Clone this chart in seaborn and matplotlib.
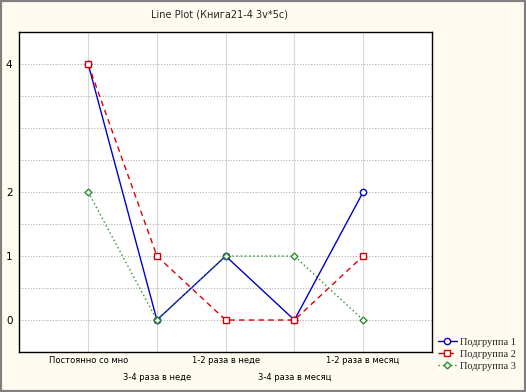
import pandas as pd
import matplotlib
matplotlib.use('Agg')
import matplotlib.pyplot as plt
import seaborn as sns

# данные с графика
categories = ['Постоянно со мно', '3-4 раза в неде', '1-2 раза в неде',
              '3-4 раза в месяц', '1-2 раза в месяц']
group1 = [4, 0, 1, 0, 2]
group2 = [4, 1, 0, 0, 1]
group3 = [2, 0, 1, 1, 0]
series_names = ['Подгруппа 1', 'Подгруппа 2', 'Подгруппа 3']

rows = []
for name, vals in zip(series_names, [group1, group2, group3]):
    for i, v in enumerate(vals):
        rows.append({'pos': i, 'value': v, 'group': name})
df = pd.DataFrame(rows)

sns.set_style('white')
plt.rcParams['font.family'] = ['DejaVu Sans']

fig = plt.figure(figsize=(5.26, 3.92), dpi=100, facecolor='#fffbf0')
ax = fig.add_axes([0.037, 0.102, 0.784, 0.816])
ax.set_facecolor('white')

styles = {
    'Подгруппа 1': dict(color='#0000cc', ls='-', marker='o'),
    'Подгруппа 2': dict(color='#dd0000', ls=(0, (4, 3)), marker='s'),
    'Подгруппа 3': dict(color='#2e8b2e', ls=(0, (1, 2)), marker='D'),
}
for name in series_names:
    st = styles[name]
    sns.lineplot(data=df[df['group'] == name], x='pos', y='value', ax=ax,
                 color=st['color'], linestyle=st['ls'], marker=st['marker'],
                 markersize=4.5 if st['marker'] != 'D' else 3.5,
                 markerfacecolor='white', markeredgecolor=st['color'],
                 markeredgewidth=1, linewidth=1, label=name)

ax.set_xlim(-1, len(categories))
ax.set_ylim(-0.5, 4.5)

# горизонтальная сетка через 0.5, подписи только 0,1,2,4
ax.set_yticks([0, 1, 2, 4])
ax.set_yticklabels(['0', '1', '2', '4'], fontsize=7.5)
ax.set_yticks([-0.5 + 0.5 * k for k in range(10)], minor=True)
ax.grid(True, which='minor', axis='y', color='#b0b0b0', ls=(0, (1, 1.5)), lw=0.8)
ax.grid(True, which='major', axis='y', color='#b0b0b0', ls=(0, (1, 1.5)), lw=0.8)

ax.set_xticks(range(len(categories)))
ax.set_xticklabels(categories, fontsize=6)
ax.grid(True, which='major', axis='x', color='#d8d8d8', ls='-', lw=0.8)

ax.tick_params(axis='both', which='both', direction='in', length=3, width=0.6,
               colors='#555555', labelcolor='black')
ax.tick_params(axis='y', which='minor', length=0)
ax.tick_params(axis='y', pad=5)
# подписи по оси X в два ряда
for i, t in enumerate(ax.xaxis.get_major_ticks()):
    t.set_pad(15 if i % 2 else 3)

for sp in ax.spines.values():
    sp.set_color('black')
    sp.set_linewidth(1)

ax.set_xlabel('')
ax.set_ylabel('')
fig.text(0.418, 0.963, 'Line Plot (Книга21-4 3v*5c)', ha='center', va='center', fontsize=7)

leg = ax.legend(loc='upper left', bbox_to_anchor=(1.015, 0.045), frameon=False,
                prop={'family': 'Liberation Serif', 'size': 7.5},
                handlelength=1.8, handletextpad=0.35, labelspacing=0.25,
                borderaxespad=0, borderpad=0)

# серая рамка окна
fig.patches.append(plt.Rectangle((0, 0), 1, 1, transform=fig.transFigure,
                                 fill=False, edgecolor='#808080', lw=3))

fig.savefig('out.png', dpi=100, facecolor=fig.get_facecolor())
